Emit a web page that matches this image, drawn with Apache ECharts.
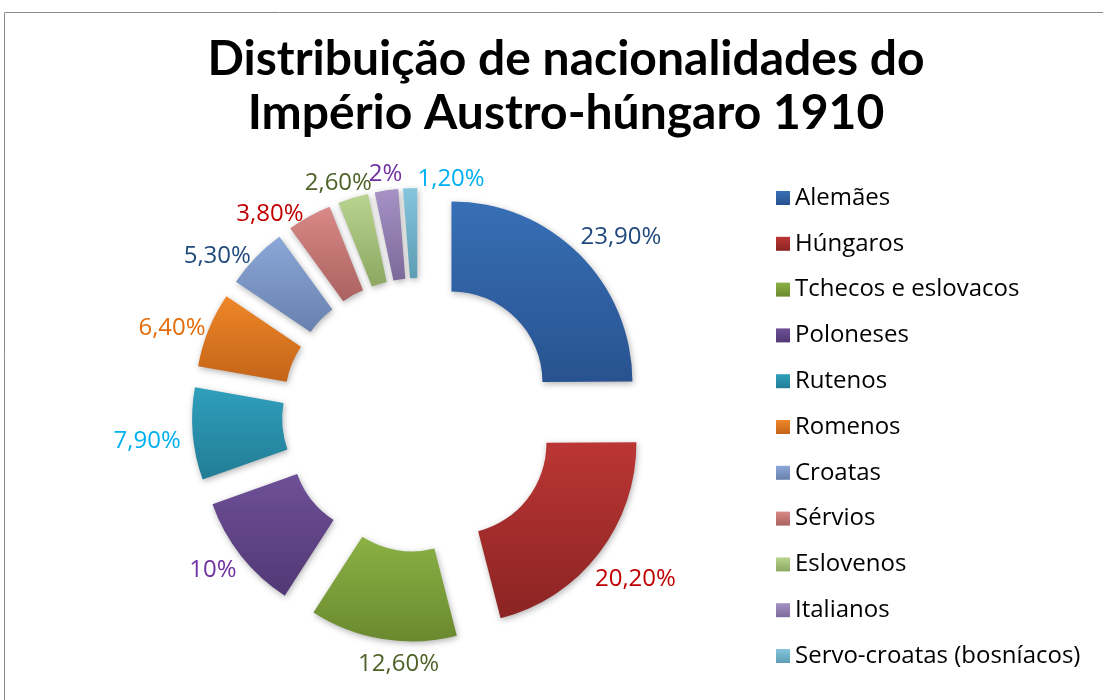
<!DOCTYPE html>
<html>
<head>
<meta charset="UTF-8">
<title>Nacionalidades 1910</title>
<script src="https://cdn.jsdelivr.net/npm/echarts@6/dist/echarts.min.js"></script>
<style>body{margin:0;background:#fff}</style>
</head>
<body>
<div id="main" style="width:1103px;height:700px"></div>
<script type="text/javascript">
// dados
var nomes = ['Alemães', 'Húngaros', 'Tchecos e eslovacos', 'Poloneses', 'Rutenos', 'Romenos',
  'Croatas', 'Sérvios', 'Eslovenos', 'Italianos', 'Servo-croatas (bosníacos)'];
var valores = [23.9, 20.2, 12.6, 10, 7.9, 6.4, 5.3, 3.8, 2.6, 2, 1.2];
var corTopo = ['#376fb6', '#bb3634', '#8bb144', '#6e5097', '#2f9fbc', '#ef8729',
  '#8ba8d8', '#d98987', '#b9d48f', '#a692c5', '#86c6dd'];
var corBase = ['#28528f', '#8a2423', '#6a892f', '#523875', '#227c95', '#c46418',
  '#6880ad', '#aa6260', '#8ca760', '#7c6a9a', '#5d9db4'];
var corRotulo = ['#1f497d', '#c00000', '#4f6228', '#7030a0', '#00b0f0', '#e46c0a',
  '#1f497d', '#c00000', '#4f6228', '#7030a0', '#00b0f0'];

// os rótulos do original foram arrastados à mão: pequenos ajustes (px)
var ajusteRotulo = [[20, 5], [10, 5], [20, -1], [-2, -6], [2, 3], [6, 16],
  [-16, 21], [-26, 22], [-7, 11], [3, 10], [42, 17]];

var centro = [419, 415];
var raioInt = 91, raioExt = 181, explosao = 46;
var total = valores.reduce(function (a, b) { return a + b; }, 0);

function rotulo(v) {
  return (Number.isInteger(v) ? String(v) : v.toFixed(2).replace('.', ',')) + '%';
}

var myChart = echarts.init(document.getElementById('main'));

var option = {
  animation: false,
  title: {
    text: 'Distribuição de nacionalidades do\nImpério Austro-húngaro 1910',
    left: 561,
    top: 28,
    textAlign: 'center',
    textStyle: {
      fontFamily: 'Lato, sans-serif',
      fontWeight: 'bold',
      fontSize: 48,
      lineHeight: 54,
      color: '#000'
    }
  },
  graphic: [{
    type: 'rect', silent: true, z: -10,
    shape: { x: 4.5, y: 12.5, width: 1200, height: 800 },
    style: { fill: 'none', stroke: '#8c8c8c', lineWidth: 1 }
  }],
  legend: {
    orient: 'vertical',
    left: 771,
    top: 181,
    itemWidth: 14,
    itemHeight: 14,
    itemGap: 21.8,
    icon: 'rect',
    selectedMode: false,
    data: nomes,
    textStyle: { fontFamily: 'Open Sans, sans-serif', fontSize: 24, color: '#000' }
  },
  series: [{
    // fatias destacadas
    type: 'pie',
    center: centro,
    radius: [raioInt, raioExt],
    startAngle: 90,
    clockwise: true,
    selectedMode: 'multiple',
    selectedOffset: explosao,
    emphasis: { disabled: true },
    itemStyle: {
      shadowBlur: 6,
      shadowColor: 'rgba(0,0,0,0.3)',
      shadowOffsetX: 1,
      shadowOffsetY: 2
    },
    label: { show: false },
    labelLine: { show: false },
    data: nomes.map(function (n, i) {
      return {
        name: n,
        value: valores[i],
        selected: true,
        itemStyle: {
          color: new echarts.graphic.LinearGradient(0, 0, 0, 1, [
            { offset: 0, color: corTopo[i] },
            { offset: 1, color: corBase[i] }
          ])
        }
      };
    })
  }, {
    // só os rótulos
    type: 'pie',
    center: centro,
    radius: [raioInt, raioExt],
    startAngle: 90,
    clockwise: true,
    silent: true,
    avoidLabelOverlap: false,
    selectedMode: false,
    emphasis: { disabled: true },
    itemStyle: { color: 'rgba(0,0,0,0)' },
    label: {
      show: true,
      position: 'outside',
      fontFamily: 'Open Sans, sans-serif',
      fontSize: 24,
      formatter: function (p) { return rotulo(p.value); }
    },
    labelLine: { show: false },
    labelLayout: function (p) {
      var i = p.dataIndex, antes = 0;
      for (var k = 0; k < i; k++) antes += valores[k];
      var ang = (antes + valores[i] / 2) / total * 2 * Math.PI;
      var ux = Math.sin(ang), uy = -Math.cos(ang);
      var w = p.labelRect.width / 2, h = p.labelRect.height / 2;
      var ext = Math.min(Math.abs(ux) > 1e-6 ? w / Math.abs(ux) : 1e9,
        Math.abs(uy) > 1e-6 ? h / Math.abs(uy) : 1e9);
      var d = explosao + raioExt + 14 + ext;
      return {
        x: centro[0] + ux * d + ajusteRotulo[i][0],
        y: centro[1] + uy * d + ajusteRotulo[i][1],
        align: 'center',
        verticalAlign: 'middle'
      };
    },
    data: nomes.map(function (n, i) {
      return { name: n, value: valores[i], label: { color: corRotulo[i] } };
    })
  }]
};

myChart.setOption(option);
</script>
</body>
</html>
